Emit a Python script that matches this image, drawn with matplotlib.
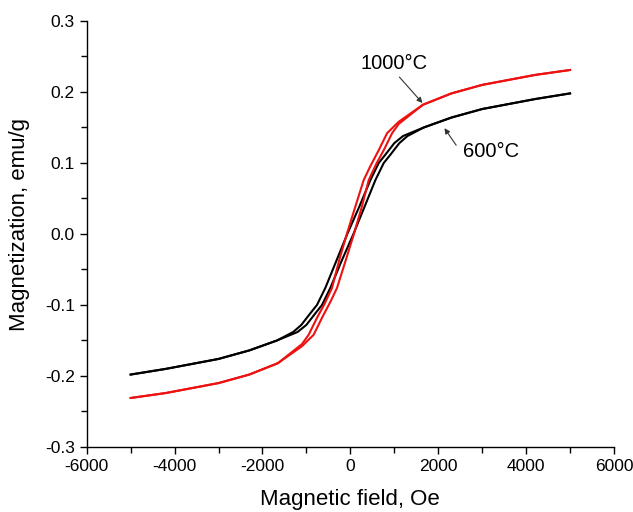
import matplotlib
matplotlib.use("Agg")
import matplotlib.pyplot as plt
from matplotlib.ticker import MultipleLocator

plt.rcParams['font.family'] = ['Liberation Sans', 'DejaVu Sans']

# 600 °C sample (black)
h600_down = [5000, 4200, 3000, 2300, 1670, 1200, 1000, 800, 645, 456, 200, -70, -320, -570, -760, -915, -1115, -1300, -1670, -2300, -3000, -4200, -5000]
m600_down = [0.198, 0.190, 0.176, 0.164, 0.150, 0.138, 0.128, 0.112, 0.100, 0.076, 0.038, 0.000, -0.038, -0.076, -0.100, -0.112, -0.128, -0.138, -0.150, -0.164, -0.176, -0.190, -0.198]
h600_up = [-5000, -4200, -3000, -2300, -1670, -1200, -1000, -800, -645, -456, -200, 70, 320, 570, 760, 915, 1115, 1300, 1670, 2300, 3000, 4200, 5000]
m600_up = [-0.198, -0.190, -0.176, -0.164, -0.150, -0.138, -0.128, -0.112, -0.100, -0.076, -0.038, 0.000, 0.038, 0.076, 0.100, 0.112, 0.128, 0.138, 0.150, 0.164, 0.176, 0.190, 0.198]

# 1000 °C sample (red)
h1000_down = [5000, 4200, 3000, 2300, 1650, 1100, 836, 645, 450, 304, 100, -80, -250, -418, -600, -759, -950, -1100, -1650, -2300, -3000, -4200, -5000]
m1000_down = [0.231, 0.224, 0.210, 0.198, 0.182, 0.158, 0.142, 0.118, 0.095, 0.076, 0.036, 0.000, -0.036, -0.076, -0.100, -0.118, -0.142, -0.155, -0.182, -0.198, -0.210, -0.224, -0.231]
h1000_up = [-5000, -4200, -3000, -2300, -1650, -1100, -836, -645, -450, -304, -100, 80, 250, 418, 600, 759, 950, 1100, 1650, 2300, 3000, 4200, 5000]
m1000_up = [-0.231, -0.224, -0.210, -0.198, -0.182, -0.158, -0.142, -0.118, -0.095, -0.076, -0.036, 0.000, 0.036, 0.076, 0.100, 0.118, 0.142, 0.155, 0.182, 0.198, 0.210, 0.224, 0.231]

x_ticks = [-6000, -4000, -2000, 0, 2000, 4000, 6000]
y_ticks = [-0.3, -0.2, -0.1, 0.0, 0.1, 0.2, 0.3]

fig = plt.figure(figsize=(6.33, 5.12), dpi=100)
ax = fig.add_axes([0.137, 0.127, 0.833, 0.832])

ax.plot(h600_down, m600_down, color='black', lw=1.5)
ax.plot(h600_up, m600_up, color='black', lw=1.5)
ax.plot(h1000_down, m1000_down, color='#ee1111', lw=1.5)
ax.plot(h1000_up, m1000_up, color='#ee1111', lw=1.5)

ax.set_xlim(-6000, 6000)
ax.set_ylim(-0.3, 0.3)
ax.set_xticks(x_ticks)
ax.set_xticklabels([str(v) for v in x_ticks])
ax.set_yticks(y_ticks)
ax.set_yticklabels(['%.1f' % v for v in y_ticks])
ax.xaxis.set_minor_locator(MultipleLocator(1000))
ax.yaxis.set_minor_locator(MultipleLocator(0.05))
for s in ['top', 'right']:
    ax.spines[s].set_visible(False)
for s in ['left', 'bottom']:
    ax.spines[s].set_linewidth(1.0)
ax.tick_params(which='major', direction='out', length=5, width=1.0, labelsize=12.5)
ax.tick_params(which='minor', direction='out', length=4, width=1.0)

ax.set_xlabel('Magnetic field, Oe', fontsize=16, labelpad=11)
ax.set_ylabel('Magnetization, emu/g', fontsize=16)
ax.yaxis.set_label_coords(-0.107, 0.523)

ax.text(1000, 0.240, '1000°C', fontsize=14.5, ha='center', va='center')
ax.annotate('', xy=(1640, 0.1845), xytext=(1116, 0.221),
            arrowprops=dict(arrowstyle='-|>', color='#333333', lw=0.8, shrinkA=0, shrinkB=0, mutation_scale=8))
ax.text(3200, 0.116, '600°C', fontsize=14.5, ha='center', va='center')
ax.annotate('', xy=(2141, 0.149), xytext=(2408, 0.125),
            arrowprops=dict(arrowstyle='-|>', color='#333333', lw=0.8, shrinkA=0, shrinkB=0, mutation_scale=8))

fig.savefig('out.png', dpi=100)
